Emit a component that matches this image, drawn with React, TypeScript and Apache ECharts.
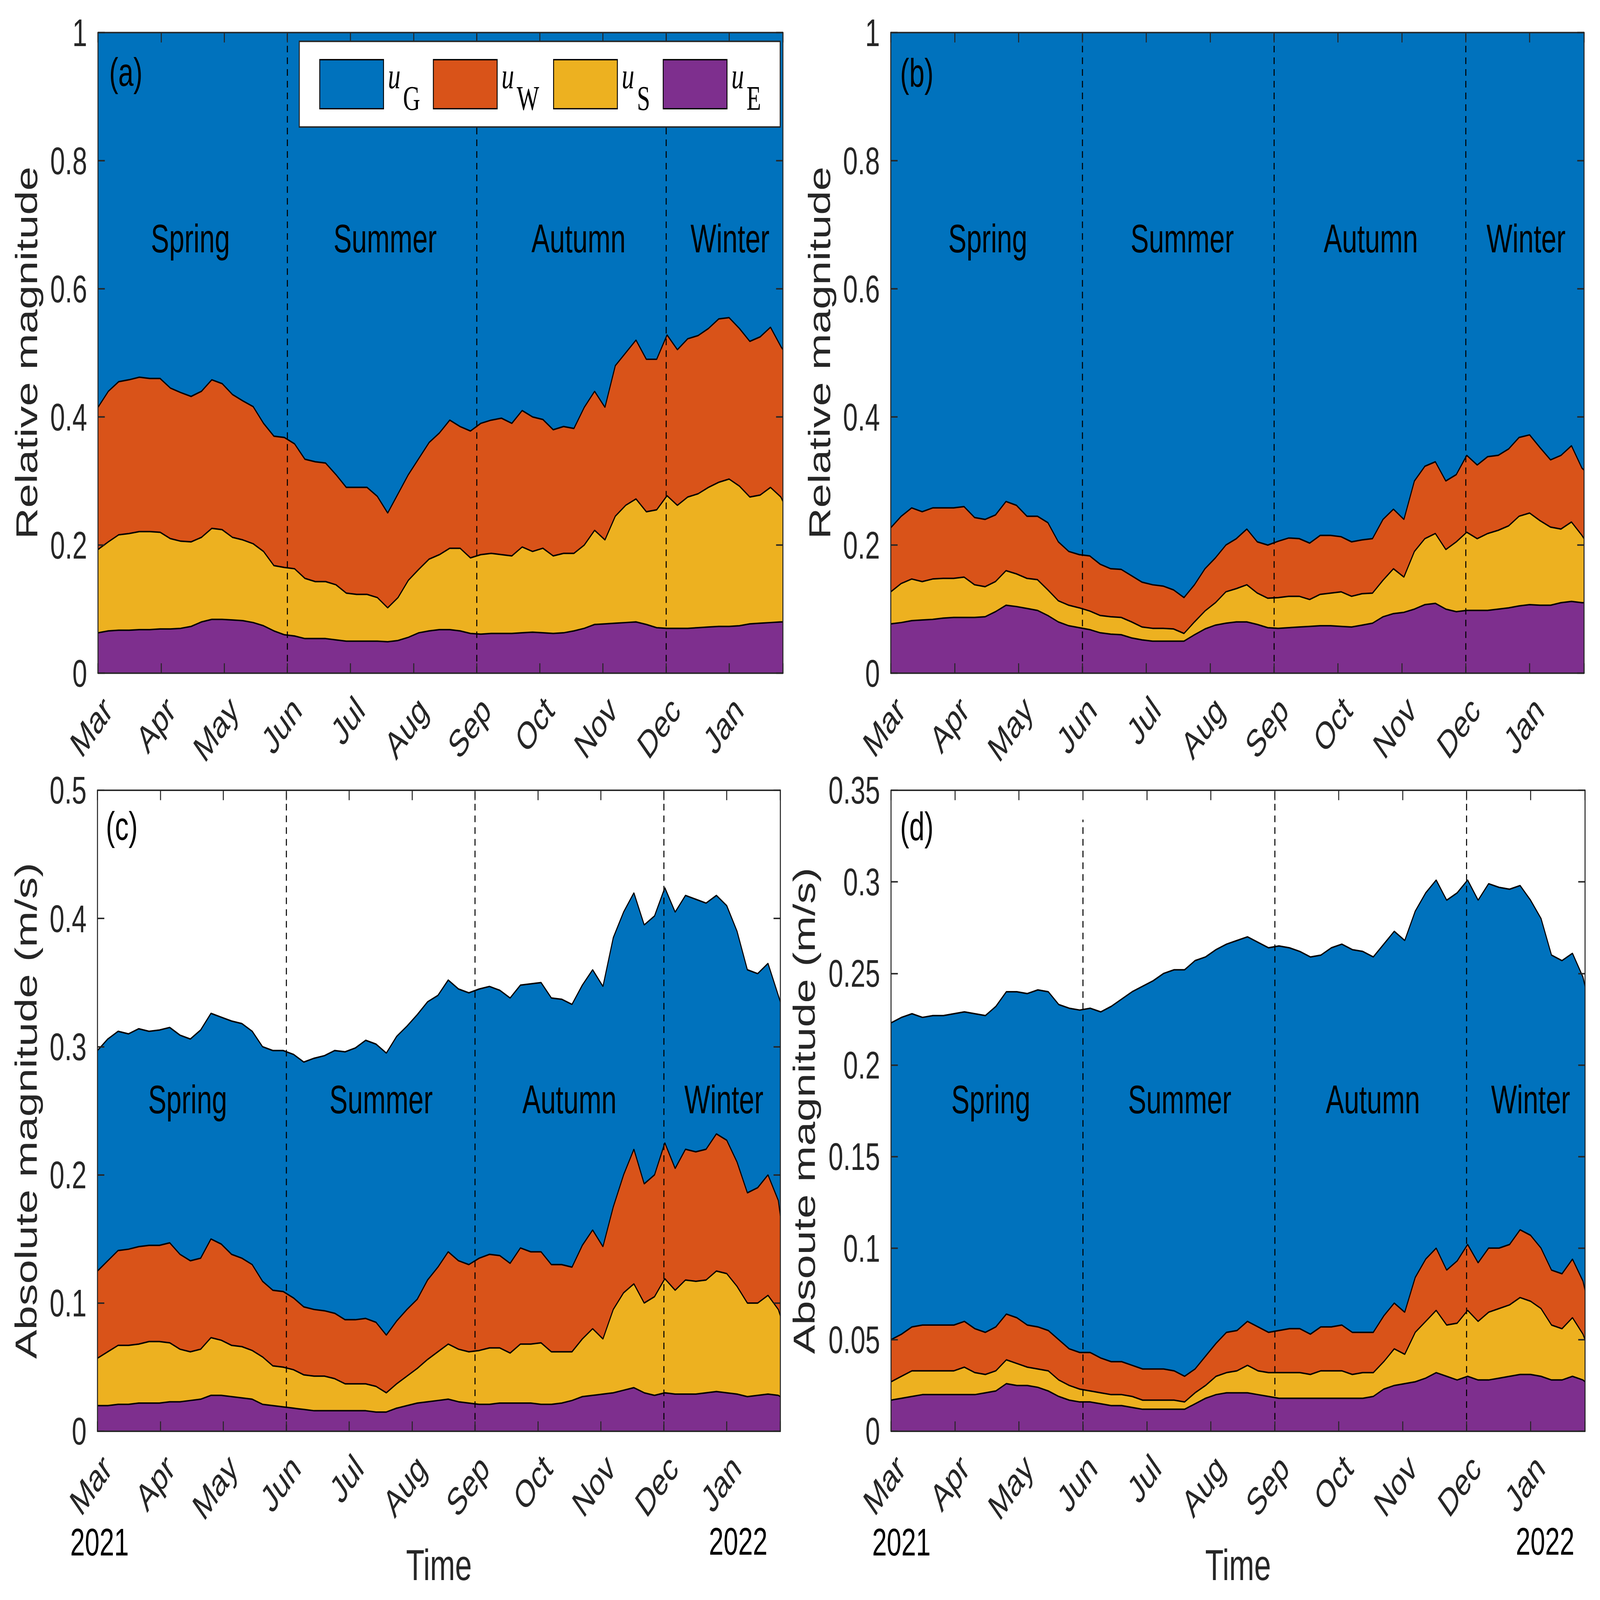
import React, { useEffect, useRef } from 'react';
import * as echarts from 'echarts';

// ---------- data ----------
// day offsets from 1 Mar 2021
const days = [
  0, 5, 10, 15, 20, 25, 30, 35, 40, 45,
  50, 55, 60, 65, 70, 75, 80, 85, 90, 95,
  100, 105, 110, 115, 120, 125, 130, 135, 140, 145,
  150, 155, 160, 165, 170, 175, 180, 185, 190, 195,
  200, 205, 210, 215, 220, 225, 230, 235, 240, 245,
  250, 255, 260, 265, 270, 275, 280, 285, 290, 295,
  300, 305, 310, 315, 320, 325, 330, 331,
];
const monthLabels = ['Mar', 'Apr', 'May', 'Jun', 'Jul', 'Aug', 'Sep', 'Oct', 'Nov', 'Dec', 'Jan'];
const seasonLabels = ['Spring', 'Summer', 'Autumn', 'Winter'];
const tickStep = 30.5;
const xMax = 331;
const seasonBoundaries = [91.5, 183, 274.5];
// relative magnitudes: the four shares add up to 1
const relShareDays = [0, 331];
const relShareTotal = [1, 1];

// (a) relative, cumulative boundaries (top of uW, uS, uE layers)
const aW = [
  0.415, 0.44, 0.455, 0.458, 0.462, 0.46, 0.46, 0.445, 0.438, 0.432,
  0.44, 0.458, 0.452, 0.435, 0.425, 0.416, 0.39, 0.37, 0.368, 0.358,
  0.334, 0.33, 0.328, 0.31, 0.29, 0.29, 0.29, 0.276, 0.25, 0.28,
  0.31, 0.335, 0.36, 0.375, 0.395, 0.385, 0.378, 0.39, 0.395, 0.398,
  0.39, 0.41, 0.4, 0.396, 0.38, 0.385, 0.382, 0.415, 0.44, 0.415,
  0.48, 0.5, 0.52, 0.49, 0.49, 0.528, 0.505, 0.522, 0.527, 0.538,
  0.553, 0.555, 0.538, 0.518, 0.525, 0.54, 0.51, 0.505,
];
const aS = [
  0.193, 0.205, 0.216, 0.218, 0.221, 0.221, 0.22, 0.21, 0.206, 0.205,
  0.212, 0.226, 0.224, 0.212, 0.208, 0.202, 0.19, 0.168, 0.165, 0.163,
  0.148, 0.143, 0.143, 0.138, 0.125, 0.123, 0.123, 0.118, 0.102, 0.118,
  0.145, 0.162, 0.178, 0.185, 0.195, 0.195, 0.18, 0.185, 0.187, 0.185,
  0.183, 0.197, 0.19, 0.195, 0.183, 0.187, 0.187, 0.2, 0.223, 0.208,
  0.245, 0.262, 0.272, 0.252, 0.255, 0.277, 0.262, 0.275, 0.28, 0.29,
  0.298, 0.303, 0.292, 0.275, 0.278, 0.29, 0.275, 0.268,
];
const aE = [
  0.063, 0.066, 0.067, 0.067, 0.068, 0.068, 0.069, 0.069, 0.07, 0.073,
  0.08, 0.084, 0.084, 0.083, 0.082, 0.079, 0.074, 0.066, 0.06, 0.058,
  0.054, 0.054, 0.054, 0.052, 0.05, 0.05, 0.05, 0.05, 0.049, 0.051,
  0.056, 0.063, 0.066, 0.068, 0.068, 0.066, 0.062, 0.061, 0.062, 0.062,
  0.062, 0.063, 0.064, 0.063, 0.062, 0.063, 0.066, 0.07, 0.076, 0.077,
  0.078, 0.079, 0.08, 0.076, 0.071, 0.07, 0.07, 0.07, 0.071, 0.072,
  0.073, 0.073, 0.074, 0.077, 0.078, 0.079, 0.08, 0.08,
];

// (b) relative
const bW = [
  0.227, 0.245, 0.258, 0.252, 0.258, 0.258, 0.258, 0.26, 0.243, 0.24,
  0.247, 0.268, 0.262, 0.245, 0.245, 0.235, 0.205, 0.19, 0.185, 0.183,
  0.17, 0.163, 0.162, 0.152, 0.142, 0.138, 0.136, 0.13, 0.118, 0.138,
  0.163, 0.18, 0.2, 0.21, 0.225, 0.205, 0.2, 0.206, 0.211, 0.21,
  0.203, 0.215, 0.215, 0.213, 0.205, 0.208, 0.21, 0.24, 0.256, 0.24,
  0.3, 0.323, 0.33, 0.3, 0.31, 0.34, 0.325, 0.338, 0.34, 0.35,
  0.368, 0.372, 0.352, 0.333, 0.34, 0.355, 0.32, 0.317,
];
const bS = [
  0.127, 0.14, 0.147, 0.143, 0.147, 0.148, 0.148, 0.15, 0.138, 0.135,
  0.143, 0.16, 0.155, 0.148, 0.146, 0.13, 0.113, 0.106, 0.102, 0.097,
  0.09, 0.088, 0.087, 0.08, 0.072, 0.07, 0.07, 0.069, 0.062, 0.08,
  0.097, 0.11, 0.127, 0.132, 0.138, 0.125, 0.117, 0.118, 0.12, 0.12,
  0.115, 0.123, 0.125, 0.127, 0.12, 0.124, 0.125, 0.145, 0.163, 0.15,
  0.19, 0.21, 0.218, 0.193, 0.205, 0.22, 0.21, 0.218, 0.223, 0.23,
  0.245, 0.25, 0.238, 0.228, 0.225, 0.236, 0.215, 0.21,
];
const bE = [
  0.077, 0.079, 0.082, 0.083, 0.084, 0.086, 0.087, 0.087, 0.087, 0.088,
  0.096, 0.106, 0.104, 0.101, 0.098, 0.09, 0.08, 0.074, 0.071, 0.068,
  0.063, 0.061, 0.06, 0.055, 0.052, 0.05, 0.05, 0.05, 0.05, 0.06,
  0.069, 0.075, 0.078, 0.08, 0.08, 0.076, 0.071, 0.07, 0.071, 0.072,
  0.073, 0.074, 0.074, 0.073, 0.072, 0.075, 0.078, 0.088, 0.093, 0.095,
  0.1, 0.107, 0.109, 0.1, 0.096, 0.098, 0.098, 0.098, 0.1, 0.102,
  0.105, 0.107, 0.106, 0.106, 0.11, 0.112, 0.11, 0.11,
];

// (c) absolute (m/s), cumulative boundaries
const cG = [
  0.297, 0.306, 0.312, 0.31, 0.314, 0.312, 0.313, 0.315, 0.309, 0.306,
  0.313, 0.326, 0.323, 0.32, 0.318, 0.312, 0.3, 0.297, 0.297, 0.294,
  0.288, 0.291, 0.293, 0.297, 0.296, 0.299, 0.305, 0.302, 0.295, 0.308,
  0.316, 0.325, 0.335, 0.34, 0.352, 0.345, 0.342, 0.345, 0.347, 0.344,
  0.338, 0.348, 0.349, 0.35, 0.338, 0.337, 0.333, 0.348, 0.36, 0.347,
  0.385, 0.405, 0.42, 0.395, 0.402, 0.424, 0.405, 0.418, 0.415, 0.412,
  0.418, 0.41, 0.39, 0.36, 0.357, 0.365, 0.34, 0.335,
];
const cW = [
  0.125, 0.133, 0.141, 0.142, 0.144, 0.145, 0.145, 0.147, 0.138, 0.133,
  0.135, 0.15, 0.146, 0.138, 0.135, 0.13, 0.117, 0.11, 0.109, 0.104,
  0.097, 0.095, 0.094, 0.092, 0.087, 0.087, 0.088, 0.085, 0.075, 0.086,
  0.095, 0.103, 0.118, 0.128, 0.14, 0.133, 0.13, 0.135, 0.138, 0.137,
  0.131, 0.143, 0.14, 0.14, 0.13, 0.13, 0.128, 0.145, 0.157, 0.144,
  0.175, 0.2, 0.22, 0.193, 0.2, 0.225, 0.205, 0.22, 0.218, 0.22,
  0.232, 0.227, 0.21, 0.186, 0.19, 0.2, 0.18, 0.168,
];
const cS = [
  0.057, 0.062, 0.067, 0.067, 0.068, 0.07, 0.07, 0.069, 0.064, 0.062,
  0.064, 0.073, 0.071, 0.067, 0.066, 0.063, 0.058, 0.051, 0.05, 0.048,
  0.044, 0.043, 0.043, 0.041, 0.037, 0.037, 0.037, 0.035, 0.03, 0.037,
  0.043, 0.049, 0.056, 0.062, 0.068, 0.064, 0.062, 0.063, 0.065, 0.065,
  0.061, 0.068, 0.068, 0.069, 0.062, 0.062, 0.062, 0.072, 0.08, 0.072,
  0.095, 0.108, 0.115, 0.1, 0.105, 0.119, 0.11, 0.118, 0.117, 0.118,
  0.125, 0.123, 0.113, 0.1, 0.1, 0.106, 0.095, 0.09,
];
const cE = [
  0.02, 0.02, 0.021, 0.021, 0.022, 0.022, 0.022, 0.023, 0.023, 0.024,
  0.025, 0.028, 0.028, 0.027, 0.026, 0.025, 0.021, 0.02, 0.019, 0.018,
  0.017, 0.016, 0.016, 0.016, 0.016, 0.016, 0.016, 0.015, 0.015, 0.018,
  0.02, 0.022, 0.023, 0.024, 0.025, 0.023, 0.022, 0.021, 0.021, 0.022,
  0.022, 0.022, 0.022, 0.021, 0.021, 0.022, 0.024, 0.027, 0.028, 0.029,
  0.03, 0.032, 0.034, 0.03, 0.028, 0.03, 0.029, 0.029, 0.029, 0.03,
  0.031, 0.03, 0.029, 0.027, 0.028, 0.029, 0.028, 0.027,
];

// (d) absolute (m/s)
const dG = [
  0.223, 0.226, 0.228, 0.226, 0.227, 0.227, 0.228, 0.229, 0.228, 0.227,
  0.232, 0.24, 0.24, 0.239, 0.241, 0.24, 0.233, 0.231, 0.23, 0.231,
  0.229, 0.232, 0.236, 0.24, 0.243, 0.246, 0.25, 0.252, 0.252, 0.257,
  0.259, 0.263, 0.266, 0.268, 0.27, 0.267, 0.264, 0.265, 0.264, 0.262,
  0.259, 0.26, 0.264, 0.266, 0.263, 0.262, 0.259, 0.266, 0.273, 0.268,
  0.284, 0.294, 0.301, 0.29, 0.294, 0.301, 0.29, 0.299, 0.297, 0.296,
  0.298, 0.29, 0.28, 0.26, 0.257, 0.261, 0.248, 0.243,
];
const dW = [
  0.05, 0.053, 0.057, 0.058, 0.058, 0.058, 0.058, 0.06, 0.056, 0.054,
  0.057, 0.064, 0.062, 0.058, 0.057, 0.055, 0.05, 0.045, 0.043, 0.043,
  0.04, 0.038, 0.038, 0.036, 0.034, 0.034, 0.034, 0.033, 0.03, 0.034,
  0.041, 0.048, 0.054, 0.055, 0.06, 0.057, 0.054, 0.055, 0.056, 0.056,
  0.053, 0.057, 0.057, 0.058, 0.054, 0.054, 0.054, 0.063, 0.07, 0.065,
  0.084, 0.094, 0.1, 0.088, 0.093, 0.102, 0.092, 0.1, 0.1, 0.102,
  0.11, 0.107, 0.1, 0.088, 0.086, 0.094, 0.082, 0.077,
];
const dS = [
  0.027, 0.03, 0.033, 0.033, 0.033, 0.033, 0.033, 0.035, 0.032, 0.031,
  0.033, 0.039, 0.037, 0.035, 0.034, 0.033, 0.028, 0.025, 0.023, 0.022,
  0.021, 0.02, 0.02, 0.019, 0.017, 0.017, 0.017, 0.017, 0.016, 0.021,
  0.025, 0.03, 0.032, 0.033, 0.036, 0.033, 0.032, 0.032, 0.032, 0.032,
  0.031, 0.033, 0.033, 0.033, 0.031, 0.032, 0.032, 0.038, 0.045, 0.042,
  0.054, 0.06, 0.066, 0.058, 0.059, 0.066, 0.06, 0.065, 0.067, 0.069,
  0.073, 0.071, 0.067, 0.058, 0.056, 0.062, 0.053, 0.05,
];
const dE = [
  0.017, 0.018, 0.019, 0.02, 0.02, 0.02, 0.02, 0.02, 0.02, 0.021,
  0.022, 0.026, 0.025, 0.025, 0.024, 0.022, 0.019, 0.017, 0.016, 0.016,
  0.015, 0.014, 0.014, 0.013, 0.012, 0.012, 0.012, 0.012, 0.012, 0.015,
  0.018, 0.02, 0.021, 0.021, 0.021, 0.02, 0.019, 0.018, 0.018, 0.018,
  0.018, 0.018, 0.018, 0.018, 0.018, 0.018, 0.019, 0.023, 0.025, 0.026,
  0.027, 0.029, 0.032, 0.03, 0.028, 0.03, 0.028, 0.028, 0.029, 0.03,
  0.031, 0.031, 0.03, 0.028, 0.028, 0.03, 0.028, 0.027,
];

// ---------- styling / layout (designed on a 6319 x 4371 canvas) ----------
const DW = 6319;
const DH = 4371;
const COLORS: Record<string, string> = { G: '#0072BD', W: '#D95319', S: '#EDB120', E: '#7E2F8E' };
const AXIS = '#262626';
const SANS = '"Liberation Sans", Arial, Helvetica, sans-serif';
const SERIF = '"Liberation Serif", "Times New Roman", serif';

type Panel = {
  letter: string;
  grid: { left: number; top: number; width: number; height: number };
  yMax: number;
  yStep: number;
  yName: string;
  yNameGap: number;
  total: number[] | null;
  W: number[];
  S: number[];
  E: number[];
  time: boolean;
  letterPos: [number, number];
  seasonX: number[];
  seasonY: number;
  years: { left: [number, number]; right: [number, number] } | null;
  lineTops: (number | null)[];
};

const panels: Panel[] = [
  {
    letter: '(a)', grid: { left: 387, top: 89, width: 2705, height: 1750 }, yMax: 1, yStep: 0.2,
    yName: 'Relative magnitude', yNameGap: 222, total: null, W: aW, S: aS, E: aE, time: false,
    letterPos: [431, 197], seasonX: [752, 1521, 2285, 2883], seasonY: 652, years: null,
    lineTops: [null, null, null],
  },
  {
    letter: '(b)', grid: { left: 3518, top: 89, width: 2738, height: 1750 }, yMax: 1, yStep: 0.2,
    yName: 'Relative magnitude', yNameGap: 222, total: null, W: bW, S: bS, E: bE, time: false,
    letterPos: [3555, 199], seasonX: [3901, 4669, 5414, 6027], seasonY: 651, years: null,
    lineTops: [null, null, null],
  },
  {
    letter: '(c)', grid: { left: 385, top: 2159, width: 2697, height: 1751 }, yMax: 0.5, yStep: 0.1,
    yName: 'Absolute magnitude (m/s)', yNameGap: 222, total: cG, W: cW, S: cS, E: cE, time: true,
    letterPos: [418, 2256], seasonX: [741, 1505, 2249, 2859], seasonY: 3003,
    years: { left: [393, 4213], right: [3031, 4211] },
    lineTops: [null, null, null],
  },
  {
    letter: '(d)', grid: { left: 3519, top: 2159, width: 2741, height: 1751 }, yMax: 0.35, yStep: 0.05,
    yName: 'Absoute magnitude (m/s)', yNameGap: 283, total: dG, W: dW, S: dS, E: dE, time: true,
    letterPos: [3555, 2258], seasonX: [3913, 4659, 5422, 6045], seasonY: 3003,
    years: { left: [3560, 4213], right: [6218, 4211] },
    lineTops: [0.334, null, null],
  },
];

const pairs = (xs: number[], ys: number[]) => xs.map((x, k) => [x, ys[k]]);

const monthFormatter = (v: number) => {
  const k = Math.round(v / tickStep);
  return Math.abs(v - k * tickStep) < 1e-6 && k >= 0 && k < monthLabels.length ? monthLabels[k] : '';
};

function buildOption(): any {
  const axisLine = { show: true, onZero: false, lineStyle: { color: AXIS, width: 4 } };
  const axisTick = { show: true, inside: true, length: 27, lineStyle: { color: AXIS, width: 4 } };

  const xAxis: any[] = [];
  const yAxis: any[] = [];
  const series: any[] = [];
  const graphic: any[] = [];

  panels.forEach((p, i) => {
    xAxis.push({
      gridIndex: i, type: 'value', min: 0, max: xMax, interval: tickStep, position: 'bottom', z: 6,
      axisLine, axisTick, splitLine: { show: false },
      axisLabel: {
        show: true, formatter: monthFormatter, rotate: 45, align: 'right', verticalAlign: 'top',
        margin: 45, fontSize: 105, color: AXIS, fontFamily: SANS,
      },
      name: p.time ? 'Time' : '', nameLocation: 'middle', nameGap: 306,
      nameTextStyle: { fontSize: 119, color: AXIS, fontFamily: SANS },
    });
    xAxis.push({
      gridIndex: i, type: 'value', min: 0, max: xMax, interval: tickStep, position: 'top', z: 6,
      axisLine, axisTick, splitLine: { show: false }, axisLabel: { show: false },
    });
    yAxis.push({
      gridIndex: i, type: 'value', min: 0, max: p.yMax, interval: p.yStep, position: 'left', z: 6,
      axisLine, axisTick, splitLine: { show: false },
      axisLabel: { show: true, margin: 43, fontSize: 105, color: AXIS, fontFamily: SANS },
      name: p.yName, nameLocation: 'middle', nameGap: p.yNameGap,
      nameTextStyle: { fontSize: 119, color: AXIS, fontFamily: SANS },
    });
    yAxis.push({
      gridIndex: i, type: 'value', min: 0, max: p.yMax, interval: p.yStep, position: 'right', z: 6,
      axisLine, axisTick, splitLine: { show: false }, axisLabel: { show: false },
    });

    const base = {
      type: 'line', xAxisIndex: 2 * i, yAxisIndex: 2 * i, showSymbol: false, symbol: 'none',
      silent: true, animation: false, clip: true, z: 2,
    };
    series.push({
      ...base, name: 'uG',
      data: p.total ? pairs(days, p.total) : pairs(relShareDays, relShareTotal),
      lineStyle: { color: '#000', width: p.total ? 4 : 0 },
      areaStyle: { color: COLORS.G, opacity: 1 }, itemStyle: { color: COLORS.G },
    });
    series.push({
      ...base, name: 'uW', data: pairs(days, p.W),
      lineStyle: { color: '#000', width: 4 }, areaStyle: { color: COLORS.W, opacity: 1 }, itemStyle: { color: COLORS.W },
    });
    series.push({
      ...base, name: 'uS', data: pairs(days, p.S),
      lineStyle: { color: '#000', width: 4 }, areaStyle: { color: COLORS.S, opacity: 1 }, itemStyle: { color: COLORS.S },
    });
    series.push({
      ...base, name: 'uE', data: pairs(days, p.E),
      lineStyle: { color: '#000', width: 4 }, areaStyle: { color: COLORS.E, opacity: 1 }, itemStyle: { color: COLORS.E },
      markLine: {
        silent: true, symbol: ['none', 'none'], animation: false, z: 5,
        label: { show: false },
        lineStyle: { color: '#000', width: 4, type: [18, 14] },
        emphasis: { disabled: true },
        data: seasonBoundaries.map((b, k) => {
          const top = p.lineTops[k];
          return top == null ? { xAxis: b } : [{ coord: [b, 0] }, { coord: [b, top] }];
        }),
      },
    });

    graphic.push({
      type: 'text', x: p.letterPos[0], y: p.letterPos[1], z: 30, silent: true,
      style: { text: p.letter, fontSize: 108, fontFamily: SANS, fill: '#000', align: 'left', verticalAlign: 'middle' },
    });
    seasonLabels.forEach((s, k) => {
      graphic.push({
        type: 'text', x: p.seasonX[k], y: p.seasonY, z: 30, silent: true,
        style: { text: s, fontSize: 108, fontFamily: SANS, fill: '#000', align: 'center', verticalAlign: 'middle' },
      });
    });
    if (p.years) {
      graphic.push({
        type: 'text', x: p.years.left[0], y: p.years.left[1], z: 30, silent: true,
        style: { text: '2021', fontSize: 104, fontFamily: SANS, fill: '#000', align: 'center', verticalAlign: 'middle' },
      });
      graphic.push({
        type: 'text', x: p.years.right[0], y: p.years.right[1], z: 30, silent: true,
        style: { text: '2022', fontSize: 104, fontFamily: SANS, fill: '#000', align: 'right', verticalAlign: 'middle' },
      });
    }
  });

  const subBase = {
    fontSize: 94, fontFamily: SERIF, fontStyle: 'normal', color: '#000', lineHeight: 50, padding: [76, 0, 0, 0],
  };

  return {
    animation: false,
    backgroundColor: '#fff',
    textStyle: { fontFamily: SANS },
    grid: panels.map((p) => ({ ...p.grid, containLabel: false })),
    xAxis,
    yAxis,
    series,
    graphic,
    legend: {
      show: true,
      z: 20,
      left: 1182,
      top: 113,
      orient: 'horizontal',
      icon: 'rect',
      itemWidth: 252,
      itemHeight: 134,
      itemGap: 50,
      padding: [32, 73, 32, 79],
      backgroundColor: '#fff',
      borderColor: AXIS,
      borderWidth: 4,
      selectedMode: false,
      itemStyle: { borderColor: '#000', borderWidth: 3.5 },
      data: ['G', 'W', 'S', 'E'].map((k) => ({
        name: 'u' + k, icon: 'rect', itemStyle: { color: COLORS[k], borderColor: '#000', borderWidth: 3.5 },
      })),
      formatter: (name: string) => `{u|u}{${name}|${name.slice(1)}}`,
      textStyle: {
        color: '#000',
        fontFamily: SERIF,
        rich: {
          u: { fontSize: 100, fontFamily: SERIF, fontStyle: 'italic', color: '#000', lineHeight: 50, padding: [0, 0, 46, 12], width: 60 },
          uG: { ...subBase, width: 68 },
          uW: { ...subBase, width: 94 },
          uS: { ...subBase, width: 48 },
          uE: { ...subBase, width: 60 },
        },
      },
    },
  };
}

export default function App() {
  const ref = useRef<HTMLDivElement>(null);
  // The layout is drawn on a 6319 x 4371 canvas and stretched to whatever viewport the page gets.
  const vw = typeof window !== 'undefined' && window.innerWidth ? window.innerWidth : DW;
  const vh = typeof window !== 'undefined' && window.innerHeight ? window.innerHeight : DH;
  const sx = vw / DW;
  const sy = vh / DH;
  useEffect(() => {
    const el = ref.current;
    if (!el) return;
    const chart = echarts.init(el, undefined, { renderer: 'svg', width: DW, height: DH });
    chart.setOption(buildOption());
    return () => chart.dispose();
  }, []);
  return (
    <div style={{ position: 'fixed', left: 0, top: 0, width: vw, height: vh, overflow: 'hidden', background: '#fff' }}>
      <div
        ref={ref}
        style={{
          position: 'absolute', left: 0, top: 0, width: DW, height: DH, background: '#fff',
          transform: `scale(${sx}, ${sy})`, transformOrigin: '0 0',
        }}
      />
    </div>
  );
}
